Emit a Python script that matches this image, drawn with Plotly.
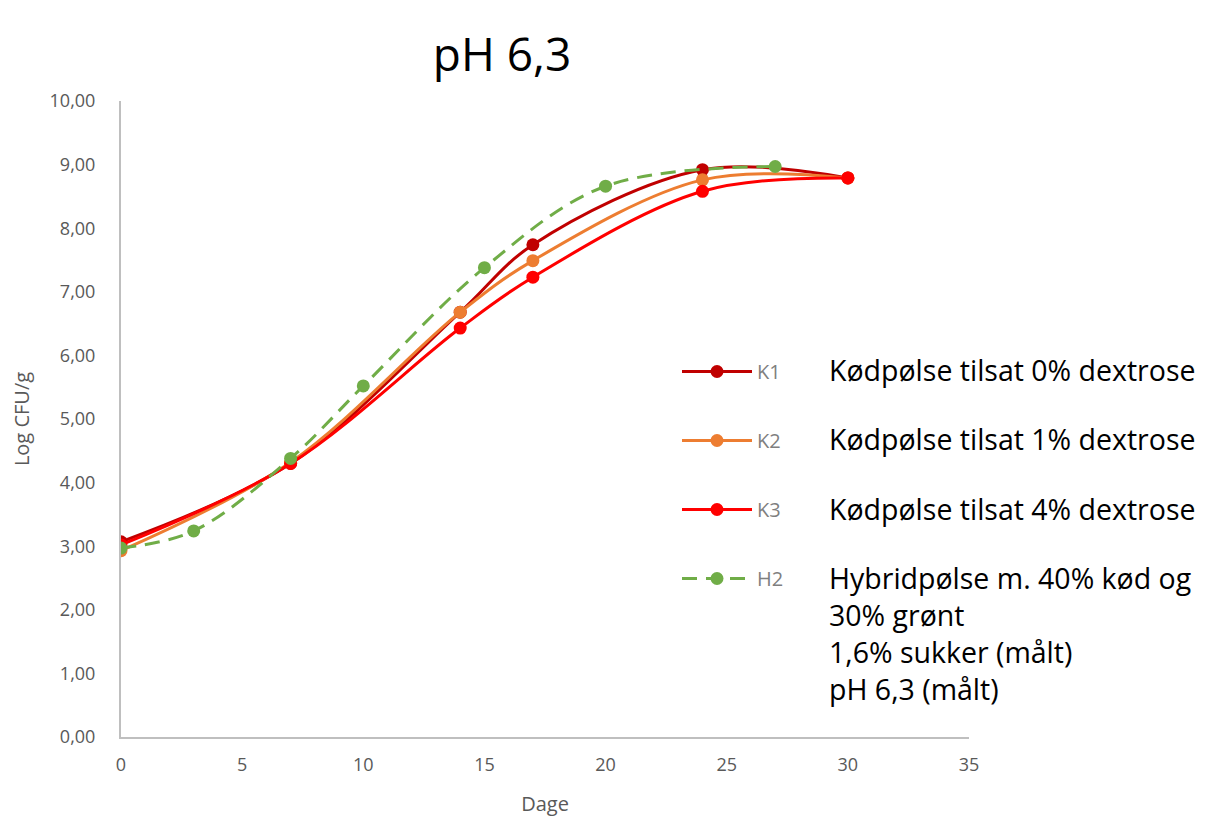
import plotly.graph_objects as go

# Data
k1_x = [0, 7, 14, 17, 24, 30]
k1_y = [3.07, 4.30, 6.68, 7.74, 8.92, 8.79]
k2_x = [0, 7, 14, 17, 24, 30]
k2_y = [2.93, 4.32, 6.68, 7.49, 8.76, 8.79]
k3_x = [0, 7, 14, 17, 24, 30]
k3_y = [3.02, 4.30, 6.43, 7.23, 8.58, 8.79]
h2_x = [0, 3, 7, 10, 15, 20, 27]
h2_y = [2.97, 3.24, 4.38, 5.52, 7.38, 8.66, 8.97]

names = ["K1", "K2", "K3", "H2"]
descriptions = [
    "Kødpølse tilsat 0% dextrose",
    "Kødpølse tilsat 1% dextrose",
    "Kødpølse tilsat 4% dextrose",
    "Hybridpølse m. 40% kød og<br>30% grønt<br>1,6% sukker (målt)<br>pH 6,3 (målt)",
]
colors = ["#C00000", "#ED7D31", "#FF0000", "#70AD47"]
dashes = ["solid", "solid", "solid", "15px,9px"]
xs_all = [k1_x, k2_x, k3_x, h2_x]
ys_all = [k1_y, k2_y, k3_y, h2_y]

x_ticks = [0, 5, 10, 15, 20, 25, 30, 35]
y_ticks = [0, 1, 2, 3, 4, 5, 6, 7, 8, 9, 10]
y_tick_labels = ["0,00", "1,00", "2,00", "3,00", "4,00", "5,00", "6,00", "7,00", "8,00", "9,00", "10,00"]

fig = go.Figure()
for name, xs, ys, col, dash in zip(names, xs_all, ys_all, colors, dashes):
    fig.add_trace(go.Scatter(
        x=xs, y=ys, name=name, mode="lines+markers",
        line=dict(color=col, width=3, dash=dash, shape="spline", smoothing=1.0),
        marker=dict(color=col, size=13),
        legendgroup=name,
    ))

# page has an 8px body margin; figure sized to compensate
OFF = 8
W, H = 1200, 811
PL, PR, PT, PB = 121 - OFF, 969 - OFF, 101 - OFF, 737 - OFF  # plot box in figure px
L, R, T, B = PL, W - PR, PT, H - PB
pw = PR - PL
ph = PB - PT

def page_to_paper(px, py):
    return (px - OFF - PL) / pw, (PB - (py - OFF)) / ph

desc_font = dict(family="Open Sans", size=28.5, color="#000000")
annotations = []
row_y = [370, 439, 509, 633]
for text, py in zip(descriptions, row_y):
    ax, ay = page_to_paper(827, py)
    annotations.append(dict(x=ax, y=ay, xref="paper", yref="paper", text=text,
                            showarrow=False, xanchor="left", yanchor="middle", align="left",
                            font=desc_font))

lx, ly = page_to_paper(677, 352)
fig.update_layout(
    width=W, height=H,
    margin=dict(l=L, r=R, t=T, b=B, autoexpand=False),
    paper_bgcolor="white", plot_bgcolor="white",
    title=dict(text="pH 6,3", x=(502 - OFF) / W, xanchor="center", y=1 - (55 - OFF) / H, yanchor="middle",
               font=dict(family="Open Sans", size=46, color="#000000")),
    font=dict(family="Open Sans", color="#595959"),
    showlegend=True,
    legend=dict(x=lx, y=ly, xanchor="left", yanchor="top", xref="paper", yref="paper",
                font=dict(family="Open Sans", size=20, color="#7F7F7F"),
                tracegroupgap=40, itemwidth=70, bgcolor="rgba(0,0,0,0)"),
    annotations=annotations,
    xaxis=dict(range=[0, 35], tickvals=x_ticks, showgrid=False, zeroline=False, automargin=False,
               showline=True, linecolor="#BFBFBF", linewidth=2,
               ticks="", tickfont=dict(family="Open Sans", size=18, color="#595959"),
               ticklabelstandoff=10,
               title=dict(text="Dage", font=dict(family="Open Sans", size=20, color="#595959"), standoff=22)),
    yaxis=dict(range=[0, 10], tickvals=y_ticks, ticktext=y_tick_labels, showgrid=False, zeroline=False,
               automargin=False,
               showline=True, linecolor="#BFBFBF", linewidth=2,
               ticks="", tickfont=dict(family="Open Sans", size=18, color="#595959"),
               ticklabelstandoff=20,
               title=dict(text="Log CFU/g", font=dict(family="Open Sans", size=20, color="#595959"), standoff=18)),
)

fig.write_html("out.html")
